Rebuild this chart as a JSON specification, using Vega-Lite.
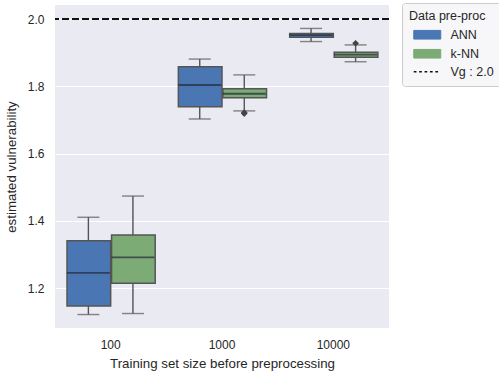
{
  "$schema": "https://vega.github.io/schema/vega-lite/v6.json",
  "width": 334,
  "height": 323,
  "autosize": "none",
  "padding": {"left": 55, "top": 5, "right": 110, "bottom": 46},
  "background": "white",
  "config": {
    "font": "Liberation Sans",
    "view": {"fill": "#EAEAF2", "stroke": null},
    "axis": {"grid": false, "ticks": false, "domain": false, "labelColor": "#262626", "titleColor": "#262626", "labelFontSize": 12, "titleFontSize": 13.3, "titleFontWeight": "normal"},
    "legend": {
      "orient": "none", "legendX": 347, "legendY": -2,
      "padding": 7, "fillColor": "#f7f7fa", "strokeColor": "#cccccc", "cornerRadius": 3,
      "titleFontSize": 12.5, "titleFontWeight": "normal", "titleColor": "#262626",
      "labelFontSize": 12.5, "labelColor": "#262626",
      "symbolSize": 100, "rowPadding": 5, "labelOffset": 17, "symbolOffset": 12, "titlePadding": 6
    }
  },
  "datasets": {
    "boxes": [
      {"size": "100", "prep": "ANN", "lower": 1.122, "q1": 1.147, "median": 1.246, "q3": 1.341, "upper": 1.411},
      {"size": "100", "prep": "k-NN", "lower": 1.125, "q1": 1.215, "median": 1.292, "q3": 1.358, "upper": 1.474},
      {"size": "1000", "prep": "ANN", "lower": 1.703, "q1": 1.739, "median": 1.804, "q3": 1.858, "upper": 1.881},
      {"size": "1000", "prep": "k-NN", "lower": 1.727, "q1": 1.766, "median": 1.778, "q3": 1.793, "upper": 1.834},
      {"size": "10000", "prep": "ANN", "lower": 1.933, "q1": 1.946, "median": 1.952, "q3": 1.957, "upper": 1.972},
      {"size": "10000", "prep": "k-NN", "lower": 1.873, "q1": 1.886, "median": 1.894, "q3": 1.901, "upper": 1.923}
    ],
    "outliers": [
      {"size": "1000", "prep": "k-NN", "value": 1.722},
      {"size": "1000", "prep": "k-NN", "value": 1.719},
      {"size": "10000", "prep": "k-NN", "value": 1.928}
    ],
    "ref": [{"v": 2.0, "label": "Vg : 2.0"}]
  },
  "layer": [
    {
      "data": {"name": "ref"},
      "mark": {"type": "rule", "strokeWidth": 0},
      "encoding": {
        "y": {"datum": 1.2, "type": "quantitative", "scale": {"domain": [1.082, 2.0416], "nice": false, "zero": false},
              "axis": {"grid": true, "gridColor": "white", "gridWidth": 1, "values": [1.2, 1.4, 1.6, 1.8, 2.0], "format": ".1f", "title": "estimated vulnerability", "labelPadding": 11, "titlePadding": 9}}
      }
    },
    {
      "data": {"name": "boxes"},
      "layer": [
        {
          "mark": {"type": "rule", "color": "#555555", "strokeWidth": 1.4},
          "encoding": {
            "x": {"field": "size", "type": "nominal", "sort": ["100", "1000", "10000"], "scale": {"paddingInner": 0.2, "paddingOuter": 0.1}, "axis": {"labelAngle": 0, "title": "Training set size before preprocessing", "labelPadding": 11, "titlePadding": 6}},
            "xOffset": {"field": "prep", "type": "nominal", "sort": ["ANN", "k-NN"], "scale": {"padding": 0}},
            "y": {"field": "lower", "type": "quantitative"},
            "y2": {"field": "upper"}
          }
        },
        {
          "mark": {"type": "tick", "color": "#555555", "thickness": 1.4, "size": 22},
          "encoding": {
            "x": {"field": "size", "type": "nominal", "sort": ["100", "1000", "10000"]},
            "xOffset": {"field": "prep", "type": "nominal", "sort": ["ANN", "k-NN"]},
            "y": {"field": "lower", "type": "quantitative"}
          }
        },
        {
          "mark": {"type": "tick", "color": "#555555", "thickness": 1.4, "size": 22},
          "encoding": {
            "x": {"field": "size", "type": "nominal", "sort": ["100", "1000", "10000"]},
            "xOffset": {"field": "prep", "type": "nominal", "sort": ["ANN", "k-NN"]},
            "y": {"field": "upper", "type": "quantitative"}
          }
        },
        {
          "mark": {"type": "bar", "stroke": "#555555", "strokeWidth": 1.5, "width": {"band": 0.98}, "opacity": 1},
          "encoding": {
            "x": {"field": "size", "type": "nominal", "sort": ["100", "1000", "10000"]},
            "xOffset": {"field": "prep", "type": "nominal", "sort": ["ANN", "k-NN"]},
            "y": {"field": "q1", "type": "quantitative"},
            "y2": {"field": "q3"},
            "color": {"field": "prep", "type": "nominal", "title": "Data pre-proc",
                      "scale": {"domain": ["ANN", "k-NN", "Vg : 2.0"], "range": ["#4a77b4", "#7dab76", "#111111"]},
                      "legend": {
                        "encode": {
                          "symbols": {"update": {
                            "shape": {"signal": "datum.value === 'Vg : 2.0' ? 'M-1,0H-0.8M-0.6,0H-0.4M-0.2,0H0M0.2,0H0.4M0.6,0H0.8' : 'M-1,-0.32H1V0.32H-1Z'"},
                            "size": {"value": 729},
                            "fill": {"signal": "datum.value === 'Vg : 2.0' ? 'transparent' : scale('color', datum.value)"},
                            "stroke": {"signal": "datum.value === 'Vg : 2.0' ? '#111111' : '#555555'"},
                            "strokeWidth": {"signal": "datum.value === 'Vg : 2.0' ? 1.3 : 1"},
                            "opacity": {"value": 1}
                          }}
                        }
                      }}
          }
        },
        {
          "mark": {"type": "tick", "thickness": 1.8, "size": 43},
          "encoding": {
            "x": {"field": "size", "type": "nominal", "sort": ["100", "1000", "10000"]},
            "xOffset": {"field": "prep", "type": "nominal", "sort": ["ANN", "k-NN"]},
            "y": {"field": "median", "type": "quantitative"},
            "color": {"value": "#222a36"}
          }
        }
      ]
    },
    {
      "data": {"name": "outliers"},
      "mark": {"type": "point", "shape": "diamond", "filled": true, "size": 45, "color": "#444444", "opacity": 1},
      "encoding": {
        "x": {"field": "size", "type": "nominal", "sort": ["100", "1000", "10000"]},
        "xOffset": {"field": "prep", "type": "nominal", "sort": ["ANN", "k-NN"]},
        "y": {"field": "value", "type": "quantitative"}
      }
    },
    {
      "data": {"name": "ref"},
      "mark": {"type": "rule", "strokeDash": [7, 3], "strokeWidth": 2},
      "encoding": {
        "y": {"field": "v", "type": "quantitative"},
        "color": {"field": "label", "type": "nominal",
                  "legend": {
                    "encode": {
                      "symbols": {"update": {
                        "shape": {"signal": "datum.value === 'Vg : 2.0' ? 'M-1,0H-0.8M-0.6,0H-0.4M-0.2,0H0M0.2,0H0.4M0.6,0H0.8' : 'M-1,-0.32H1V0.32H-1Z'"},
                        "size": {"value": 729},
                        "fill": {"signal": "datum.value === 'Vg : 2.0' ? 'transparent' : scale('color', datum.value)"},
                        "stroke": {"signal": "datum.value === 'Vg : 2.0' ? '#111111' : '#555555'"},
                        "strokeWidth": {"signal": "datum.value === 'Vg : 2.0' ? 1.3 : 1"},
                        "opacity": {"value": 1}
                      }}
                    }
                  }}
      }
    }
  ]
}
